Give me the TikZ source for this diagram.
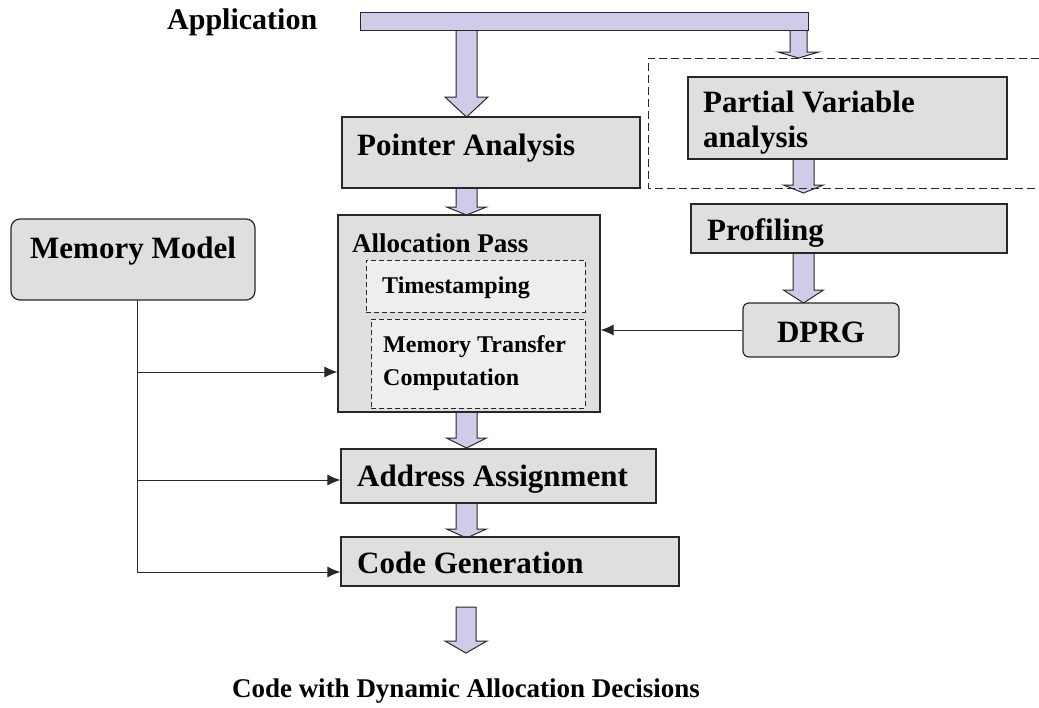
\documentclass[tikz,border=0pt]{standalone}
\usepackage{fontspec}
\setmainfont{Liberation Serif}
\usetikzlibrary{arrows.meta}
\definecolor{boxgray}{RGB}{222,223,222}
\definecolor{innergray}{RGB}{238,238,238}
\definecolor{lav}{RGB}{206,204,232}
\definecolor{edge}{RGB}{40,40,40}

% block arrow: x, top y, tip y, shaft half width, head half width, head length
\newcommand\fatarrow[6]{%
  \filldraw[fatstyle] ({#1-#4},#2) -- ({#1-#4},{#3-#6}) -- ({#1-#5},{#3-#6})
    -- (#1,#3) -- ({#1+#5},{#3-#6}) -- ({#1+#4},{#3-#6}) -- ({#1+#4},#2) -- cycle;}

\begin{document}
\begin{tikzpicture}[x=1pt,y=-1pt,
  font=\bfseries\fontsize{31}{35}\selectfont,
  box/.style={draw=edge, line width=1.2pt, fill=boxgray, inner sep=0pt},
  rbox/.style={box, rounded corners=6pt},
  inner/.style={draw=edge, line width=1pt, dash pattern=on 5pt off 3pt, fill=innergray, inner sep=0pt},
  lbl/.style={anchor=base west, inner sep=0pt, text=black},
  small/.style={font=\bfseries\fontsize{24}{28}\selectfont},
  mid/.style={font=\bfseries\fontsize{27}{31}\selectfont},
  fatstyle/.style={draw=edge, line width=1pt, fill=lav},
  conn/.style={draw=edge, line width=1pt, -{Latex[length=13pt,width=11pt]}},
  wire/.style={draw=edge, line width=1pt}]
\useasboundingbox (0,0) rectangle (1039,707);

% block arrows (drawn below the boxes and the distribution bar)
\fatarrow{466.5}{30}{117}{10.5}{21.5}{20}
\fatarrow{798.5}{30}{58}{8.5}{20.5}{6}
\fatarrow{466.5}{188}{215}{10.5}{20}{8}
\fatarrow{803.5}{159}{193}{10.5}{20}{8}
\fatarrow{803.5}{253}{303}{10.5}{20}{13}
\fatarrow{466.5}{412}{448}{10.5}{20}{10}
\fatarrow{466.5}{503}{538}{10.5}{20}{9}
\fatarrow{466}{607}{653}{10}{21}{12}

% distribution bar from the application
\filldraw[fatstyle] (360,12) rectangle (808,30);
\node[lbl, font=\bfseries\fontsize{30}{34}\selectfont] (app) at (167,29) {Application};

% optional profiling region (open on the right)
\draw[draw=edge, line width=1pt, dash pattern=on 8pt off 4pt]
  (1039,58) -- (648,58) -- (648,188) -- (1039,188);

% main flow
\node[box, minimum width=298pt, minimum height=71pt] (pa) at (491,152.5) {};
\node[lbl] (palbl) at (357,155) {Pointer Analysis};

\node[box, minimum width=262pt, minimum height=197pt] (ap) at (469,313.5) {};
\node[lbl, mid] (aplbl) at (352,252) {Allocation Pass};
\node[inner, minimum width=219pt, minimum height=52pt] (ts) at (475.5,286) {};
\node[lbl, small] (tslbl) at (382,293) {Timestamping};
\node[inner, minimum width=214pt, minimum height=89pt] (mt) at (478,363.5) {};
\node[lbl, small] (mtlbl) at (383,352) {Memory Transfer};
\node[lbl, small] (mtlbl2) at (383,385) {Computation};

\node[box, minimum width=315pt, minimum height=54pt] (aa) at (498.5,476) {};
\node[lbl] (aalbl) at (357,486) {Address Assignment};

\node[box, minimum width=338pt, minimum height=49pt] (cg) at (510,561.5) {};
\node[lbl] (cglbl) at (357,573) {Code Generation};

\node[anchor=base, inner sep=0pt, mid] (out) at (466,697) {Code with Dynamic Allocation Decisions};

% profiling side
\node[box, minimum width=319pt, minimum height=82pt] (pv) at (847.5,118) {};
\node[lbl] (pvlbl) at (703,112) {Partial Variable};
\node[lbl] (pvlbl2) at (703,147) {analysis};

\node[box, minimum width=316pt, minimum height=49pt] (pr) at (849,228.5) {};
\node[lbl] (prlbl) at (707,240) {Profiling};

\node[rbox, minimum width=156pt, minimum height=54pt] (dprg) at (821,330) {};
\node[anchor=base, inner sep=0pt] (dprglbl) at (821,342) {DPRG};

\draw[conn] (dprg.west) -- (dprg.west -| ap.east);

% memory model feeding the three passes
\node[rbox, rounded corners=9pt, minimum width=244pt, minimum height=81pt] (mm) at (133,259.5) {};
\node[lbl] (mmlbl) at (30,258) {Memory Model};

\coordinate (mtop) at (137,300);
\coordinate (j1) at (137,372);
\coordinate (j2) at (137,480);
\coordinate (j3) at (137,572);
\draw[wire] (mtop) -- (j3);
\draw[conn] (j1) -- (j1 -| ap.west);
\draw[conn] (j2) -- (j2 -| aa.west);
\draw[conn] (j3) -- (j3 -| cg.west);
\end{tikzpicture}
\end{document}
